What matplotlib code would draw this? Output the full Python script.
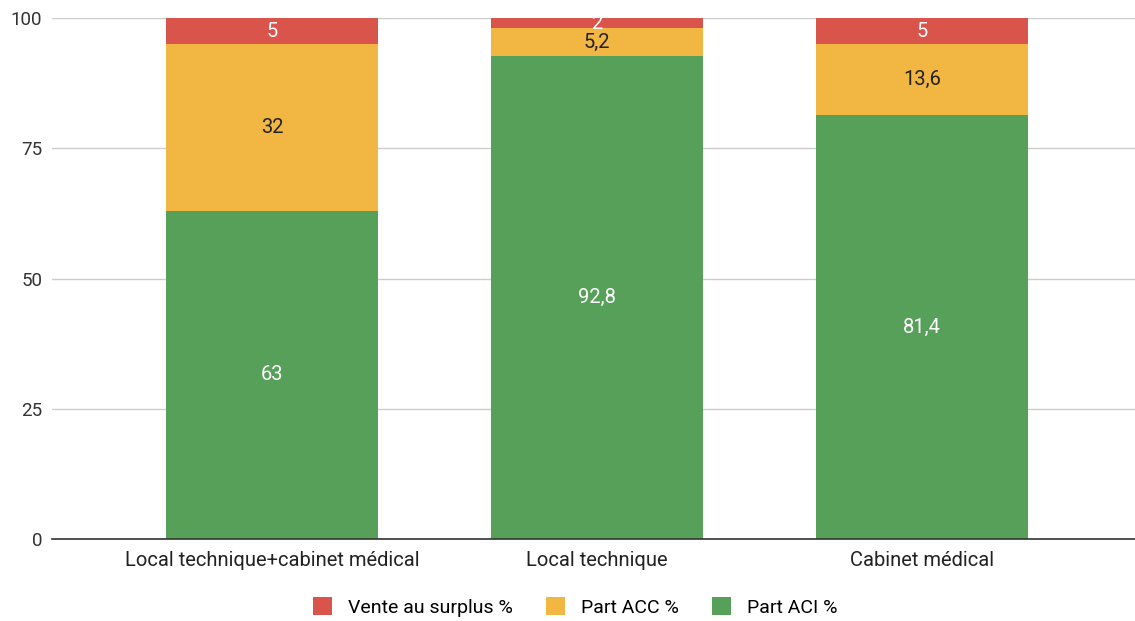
import numpy as np
import matplotlib
matplotlib.use("Agg")
import matplotlib.pyplot as plt

categories = ["Local technique+cabinet médical", "Local technique", "Cabinet médical"]
part_aci = [63, 92.8, 81.4]
part_acc = [32, 5.2, 13.6]
vente_surplus = [5, 2, 5]

plt.rcParams['font.family'] = ['Roboto', 'DejaVu Sans']

fig = plt.figure(figsize=(11.35, 6.21), dpi=100)
ax = fig.add_axes([52 / 1135, 1 - 539 / 621, 1 - 52 / 1135, (539 - 18) / 621])

x = np.arange(len(categories))
w = 0.652
series = [
    (part_aci, "#57A05A", "white", "Part ACI %"),
    (part_acc, "#F2B643", "#222222", "Part ACC %"),
    (vente_surplus, "#D9544A", "white", "Vente au surplus %"),
]
bottom = np.zeros(len(categories))
handles = []
for vals, col, tcol, name in series:
    vals = np.array(vals, dtype=float)
    b = ax.bar(x, vals, w, bottom=bottom, color=col, label=name, zorder=3)
    handles.append(b)
    for xi, v, bt in zip(x, vals, bottom):
        txt = ("%g" % v).replace(".", ",")
        ax.text(xi, bt + v / 2, txt, ha="center", va="center",
                color=tcol, fontsize=14.5, zorder=4)
    bottom += vals

ax.set_xlim(-0.677, 2.655)
ax.set_ylim(0, 100)
ax.set_yticks([0, 25, 50, 75, 100])
ax.set_xticks(x)
ax.set_xticklabels(categories, fontsize=14.5, color="#222222")
ax.tick_params(axis="y", labelsize=13.5, colors="#333333", length=0, pad=7)
ax.tick_params(axis="x", length=0, pad=9)
ax.grid(axis="y", color="#CCCCCC", linewidth=1, zorder=0)
for s in ["top", "right", "left"]:
    ax.spines[s].set_visible(False)
ax.spines["bottom"].set_color("#333333")
ax.spines["bottom"].set_linewidth(1.2)
ax.spines["bottom"].set_zorder(5)

fig.legend(handles[::-1], [h.get_label() for h in handles[::-1]],
           loc="center", bbox_to_anchor=(575 / 1135, 1 - 607 / 621),
           ncol=3, frameon=False, fontsize=14, handlelength=1.0,
           handleheight=1.0, columnspacing=1.7, handletextpad=0.8)

fig.savefig("out.png", dpi=100)
